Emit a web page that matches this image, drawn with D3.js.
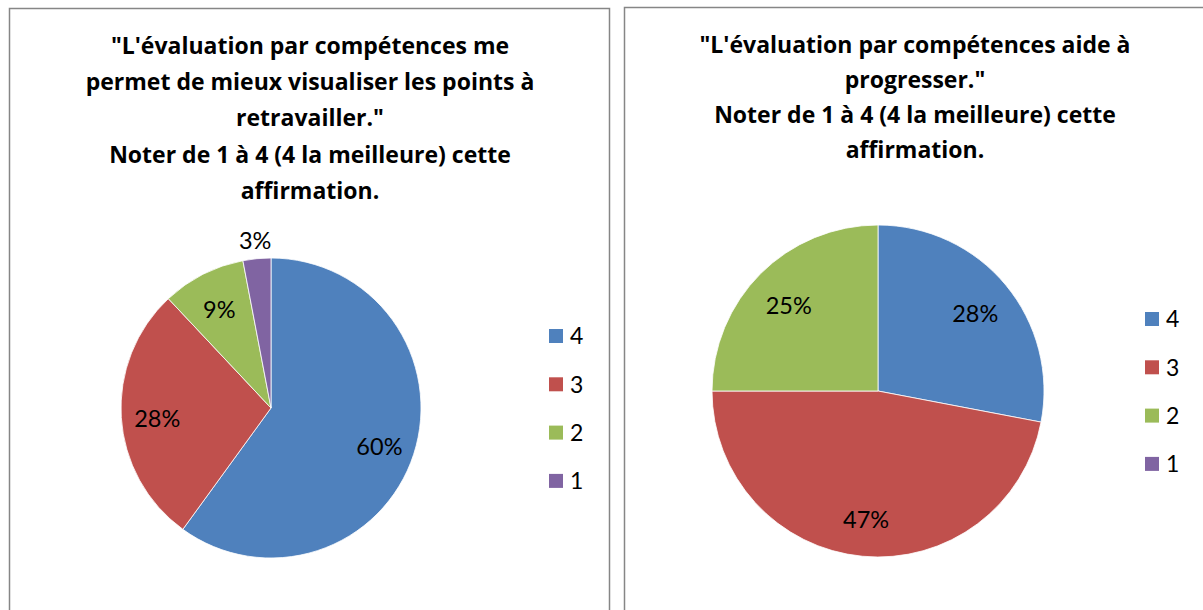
<!DOCTYPE html>
<html>
<head>
<meta charset="utf-8">
<script src="https://cdn.jsdelivr.net/npm/d3@7"></script>
<style>
  body { margin: 0; background: #fff; }
  text { font-family: Lato, "Open Sans", sans-serif; }
  .chartTitle { font-family: "Open Sans", Lato, sans-serif; }
</style>
</head>
<body>
<div id="chart"></div>
<script>
// Data
var categories = ["4", "3", "2", "1"];
var valuesLeft = [60, 28, 9, 3];
var valuesRight = [28, 47, 25, 0];
var titleLeft = [
  "\"L'évaluation par compétences me",
  "permet de mieux visualiser les points à",
  "retravailler.\"",
  "Noter de 1 à 4 (4 la meilleure) cette",
  "affirmation."
];
var titleRight = [
  "\"L'évaluation par compétences aide à",
  "progresser.\"",
  "Noter de 1 à 4 (4 la meilleure) cette",
  "affirmation."
];
var colors = ["#4F81BD", "#C0504D", "#9BBB59", "#8064A2"];

var svgWidth = 1203;
var svgHeight = 610;

var svg = d3.select("#chart").append("svg")
  .attr("width", svgWidth)
  .attr("height", svgHeight);

var color = d3.scaleOrdinal().domain(categories).range(colors);

// Panel layout
var panels = [
  { values: valuesLeft, title: titleLeft, x: 9, y: 8, w: 600, h: 640,
    cx: 271, cy: 408, r: 150, titleX: 310, titleY: 54, lineH: 36.2,
    legendX: 549, legendY: 336 },
  { values: valuesRight, title: titleRight, x: 624, y: 7, w: 600, h: 640,
    cx: 878, cy: 391, r: 166, titleX: 915, titleY: 53, lineH: 35,
    legendX: 1145, legendY: 319 }
];

var pie = d3.pie().sort(null).value(d => d.value);

panels.forEach(function(p) {
  var g = svg.append("g");

  // Frame
  g.append("rect")
    .attr("x", p.x + 0.5)
    .attr("y", p.y + 0.5)
    .attr("width", p.w)
    .attr("height", p.h)
    .attr("fill", "#fff")
    .attr("stroke", "#868686")
    .attr("stroke-width", 1.5);

  // Title
  g.append("text")
    .classed("chartTitle", true)
    .attr("text-anchor", "middle")
    .attr("font-size", "23px")
    .attr("font-weight", "bold")
    .attr("fill", "#000")
    .selectAll("tspan")
    .data(p.title)
    .enter()
    .append("tspan")
    .attr("x", p.titleX)
    .attr("y", (d, i) => p.titleY + i * p.lineH)
    .text(d => d);

  var data = categories.map((c, i) => ({ cat: c, value: p.values[i] }));
  var arcs = pie(data);

  var arc = d3.arc().innerRadius(0).outerRadius(p.r);
  var labelArc = d3.arc().innerRadius(p.r * 0.76).outerRadius(p.r * 0.76);
  var outerArc = d3.arc().innerRadius(p.r * 1.12).outerRadius(p.r * 1.12);

  var pieGroup = g.append("g")
    .attr("transform", `translate(${p.cx}, ${p.cy})`);

  pieGroup.selectAll("path")
    .data(arcs.filter(d => d.data.value > 0))
    .enter()
    .append("path")
    .attr("d", arc)
    .attr("fill", d => color(d.data.cat))
    .attr("stroke", "#fff")
    .attr("stroke-width", 0.8);

  pieGroup.selectAll(".pieLabel")
    .data(arcs.filter(d => d.data.value > 0))
    .enter()
    .append("text")
    .classed("pieLabel", true)
    .attr("transform", function(d) {
      var c = d.data.value < 5 ? outerArc.centroid(d) : labelArc.centroid(d);
      return `translate(${c[0]}, ${c[1]})`;
    })
    .attr("text-anchor", "middle")
    .attr("dy", d => d.data.value < 5 ? "0.36em" : "0.5em")
    .attr("font-size", "23.5px")
    .attr("fill", "#000")
    .text(d => d.data.value + "%");

  // Legend
  var legend = g.selectAll(".legendItem")
    .data(categories)
    .enter()
    .append("g")
    .classed("legendItem", true)
    .attr("transform", (d, i) => `translate(${p.legendX}, ${p.legendY + i * 48.3})`);

  legend.append("rect")
    .attr("x", 0)
    .attr("y", -7)
    .attr("width", 14)
    .attr("height", 14)
    .attr("fill", d => color(d));

  legend.append("text")
    .attr("x", 21)
    .attr("y", 0)
    .attr("dy", "0.36em")
    .attr("font-size", "23px")
    .attr("fill", "#000")
    .text(d => d);
});
</script>
</body>
</html>
